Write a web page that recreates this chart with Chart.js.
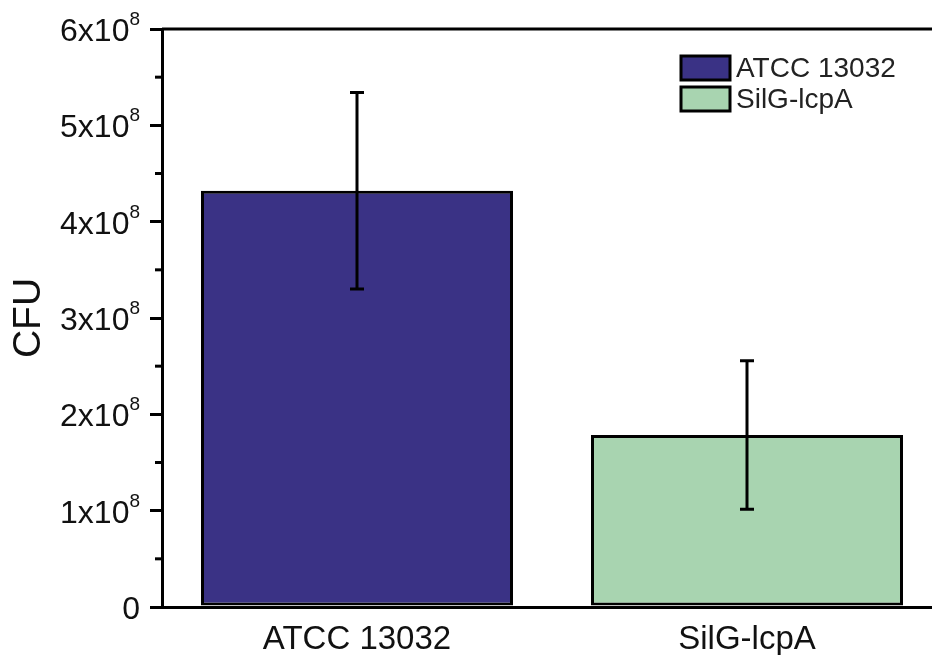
<!DOCTYPE html>
<html>
<head>
<meta charset="utf-8">
<script src="https://cdn.jsdelivr.net/npm/chart.js@4"></script>
<style>
html,body{margin:0;padding:0;background:#fff;overflow:hidden;}
#wrap{width:960px;height:655px;position:relative;}
</style>
</head>
<body>
<div id="wrap"><canvas id="c" width="960" height="655"></canvas></div>
<script>
const categories = ['ATCC 13032', 'SilG-lcpA'];
const cfuMeans = [4.32e8, 1.786e8];
const cfuErrors = [1.02e8, 0.77e8];
const barColors = ['#3A3285', '#A8D4B0'];
const yTickValues = [0, 1e8, 2e8, 3e8, 4e8, 5e8, 6e8];
const yTickMantissa = ['0', '1x10', '2x10', '3x10', '4x10', '5x10', '6x10'];
const yTickExponent = ['', '8', '8', '8', '8', '8', '8'];
const yTitle = 'CFU';

const FONT = '"Liberation Sans", Arial, sans-serif';

const customDraw = {
  id: 'customDraw',
  afterDatasetsDraw(chart) {
    const ctx = chart.ctx;
    const x = chart.scales.x, y = chart.scales.y;
    const area = chart.chartArea;
    ctx.save();
    ctx.strokeStyle = '#000';
    ctx.lineWidth = 3;
    cfuMeans.forEach((m, i) => {
      const px = x.getPixelForValue(i);
      const top = y.getPixelForValue(m + cfuErrors[i]);
      const bot = y.getPixelForValue(m - cfuErrors[i]);
      ctx.beginPath();
      ctx.moveTo(px, top); ctx.lineTo(px, bot);
      ctx.moveTo(px - 7, top); ctx.lineTo(px + 7, top);
      ctx.moveTo(px - 7, bot); ctx.lineTo(px + 7, bot);
      ctx.stroke();
    });
    ctx.beginPath();
    ctx.moveTo(area.left, area.top);
    ctx.lineTo(chart.width, area.top);
    ctx.stroke();
    for (let i = 0; i < yTickValues.length - 1; i++) {
      const v = (yTickValues[i] + yTickValues[i + 1]) / 2;
      const py = y.getPixelForValue(v);
      ctx.beginPath();
      ctx.moveTo(area.left - 7, py); ctx.lineTo(area.left, py);
      ctx.stroke();
    }
    ctx.fillStyle = '#111';
    ctx.textBaseline = 'alphabetic';
    ctx.textAlign = 'right';
    const rightX = 140;
    yTickValues.forEach((v, i) => {
      const py = y.getPixelForValue(v);
      let rx = rightX;
      if (yTickExponent[i]) {
        ctx.font = '19px ' + FONT;
        ctx.fillText(yTickExponent[i], rx, py - 4);
        rx -= ctx.measureText(yTickExponent[i]).width;
      }
      ctx.font = '32px ' + FONT;
      ctx.fillText(yTickMantissa[i], rx, py + 12);
    });
    const lx = 681, ly = [56, 87], bw = 49, bh = 24;
    categories.forEach((c, i) => {
      ctx.fillStyle = barColors[i];
      ctx.fillRect(lx, ly[i], bw, bh);
      ctx.strokeStyle = '#000';
      ctx.lineWidth = 3;
      ctx.strokeRect(lx, ly[i], bw, bh);
      ctx.fillStyle = '#222';
      ctx.font = '28px ' + FONT;
      ctx.textAlign = 'left';
      ctx.textBaseline = 'middle';
      ctx.fillText(c, lx + bw + 6, ly[i] + bh / 2 + 1);
    });
    ctx.restore();
  }
};

new Chart(document.getElementById('c'), {
  type: 'bar',
  data: {
    labels: categories,
    datasets: [{
      data: cfuMeans,
      backgroundColor: barColors,
      borderColor: '#000',
      borderWidth: 3,
      borderSkipped: false,
      barPercentage: 0.8,
      categoryPercentage: 1.0
    }]
  },
  options: {
    responsive: false,
    animation: false,
    devicePixelRatio: 1,
    layout: { padding: { left: 0, top: 29, right: 18, bottom: 0 } },
    plugins: { legend: { display: false }, tooltip: { enabled: false } },
    scales: {
      x: {
        offset: true,
        grid: { display: false },
        border: { display: true, color: '#000', width: 3 },
        ticks: { color: '#111', font: { family: FONT, size: 33 }, padding: 5 },
        afterFit(s) { s.height = 48; }
      },
      y: {
        min: 0, max: 6e8,
        afterBuildTicks(s) { s.ticks = yTickValues.map(v => ({ value: v })); },
        grid: { drawOnChartArea: false, drawTicks: true, tickLength: 12, lineWidth: 3, color: '#000' },
        border: { display: true, color: '#000', width: 3 },
        ticks: { display: false },
        title: { display: true, text: yTitle, color: '#111', font: { family: FONT, size: 39 }, padding: { top: 6, bottom: 0 } },
        afterFit(s) { s.width = 162; }
      }
    }
  },
  plugins: [customDraw]
});
</script>
</body>
</html>
